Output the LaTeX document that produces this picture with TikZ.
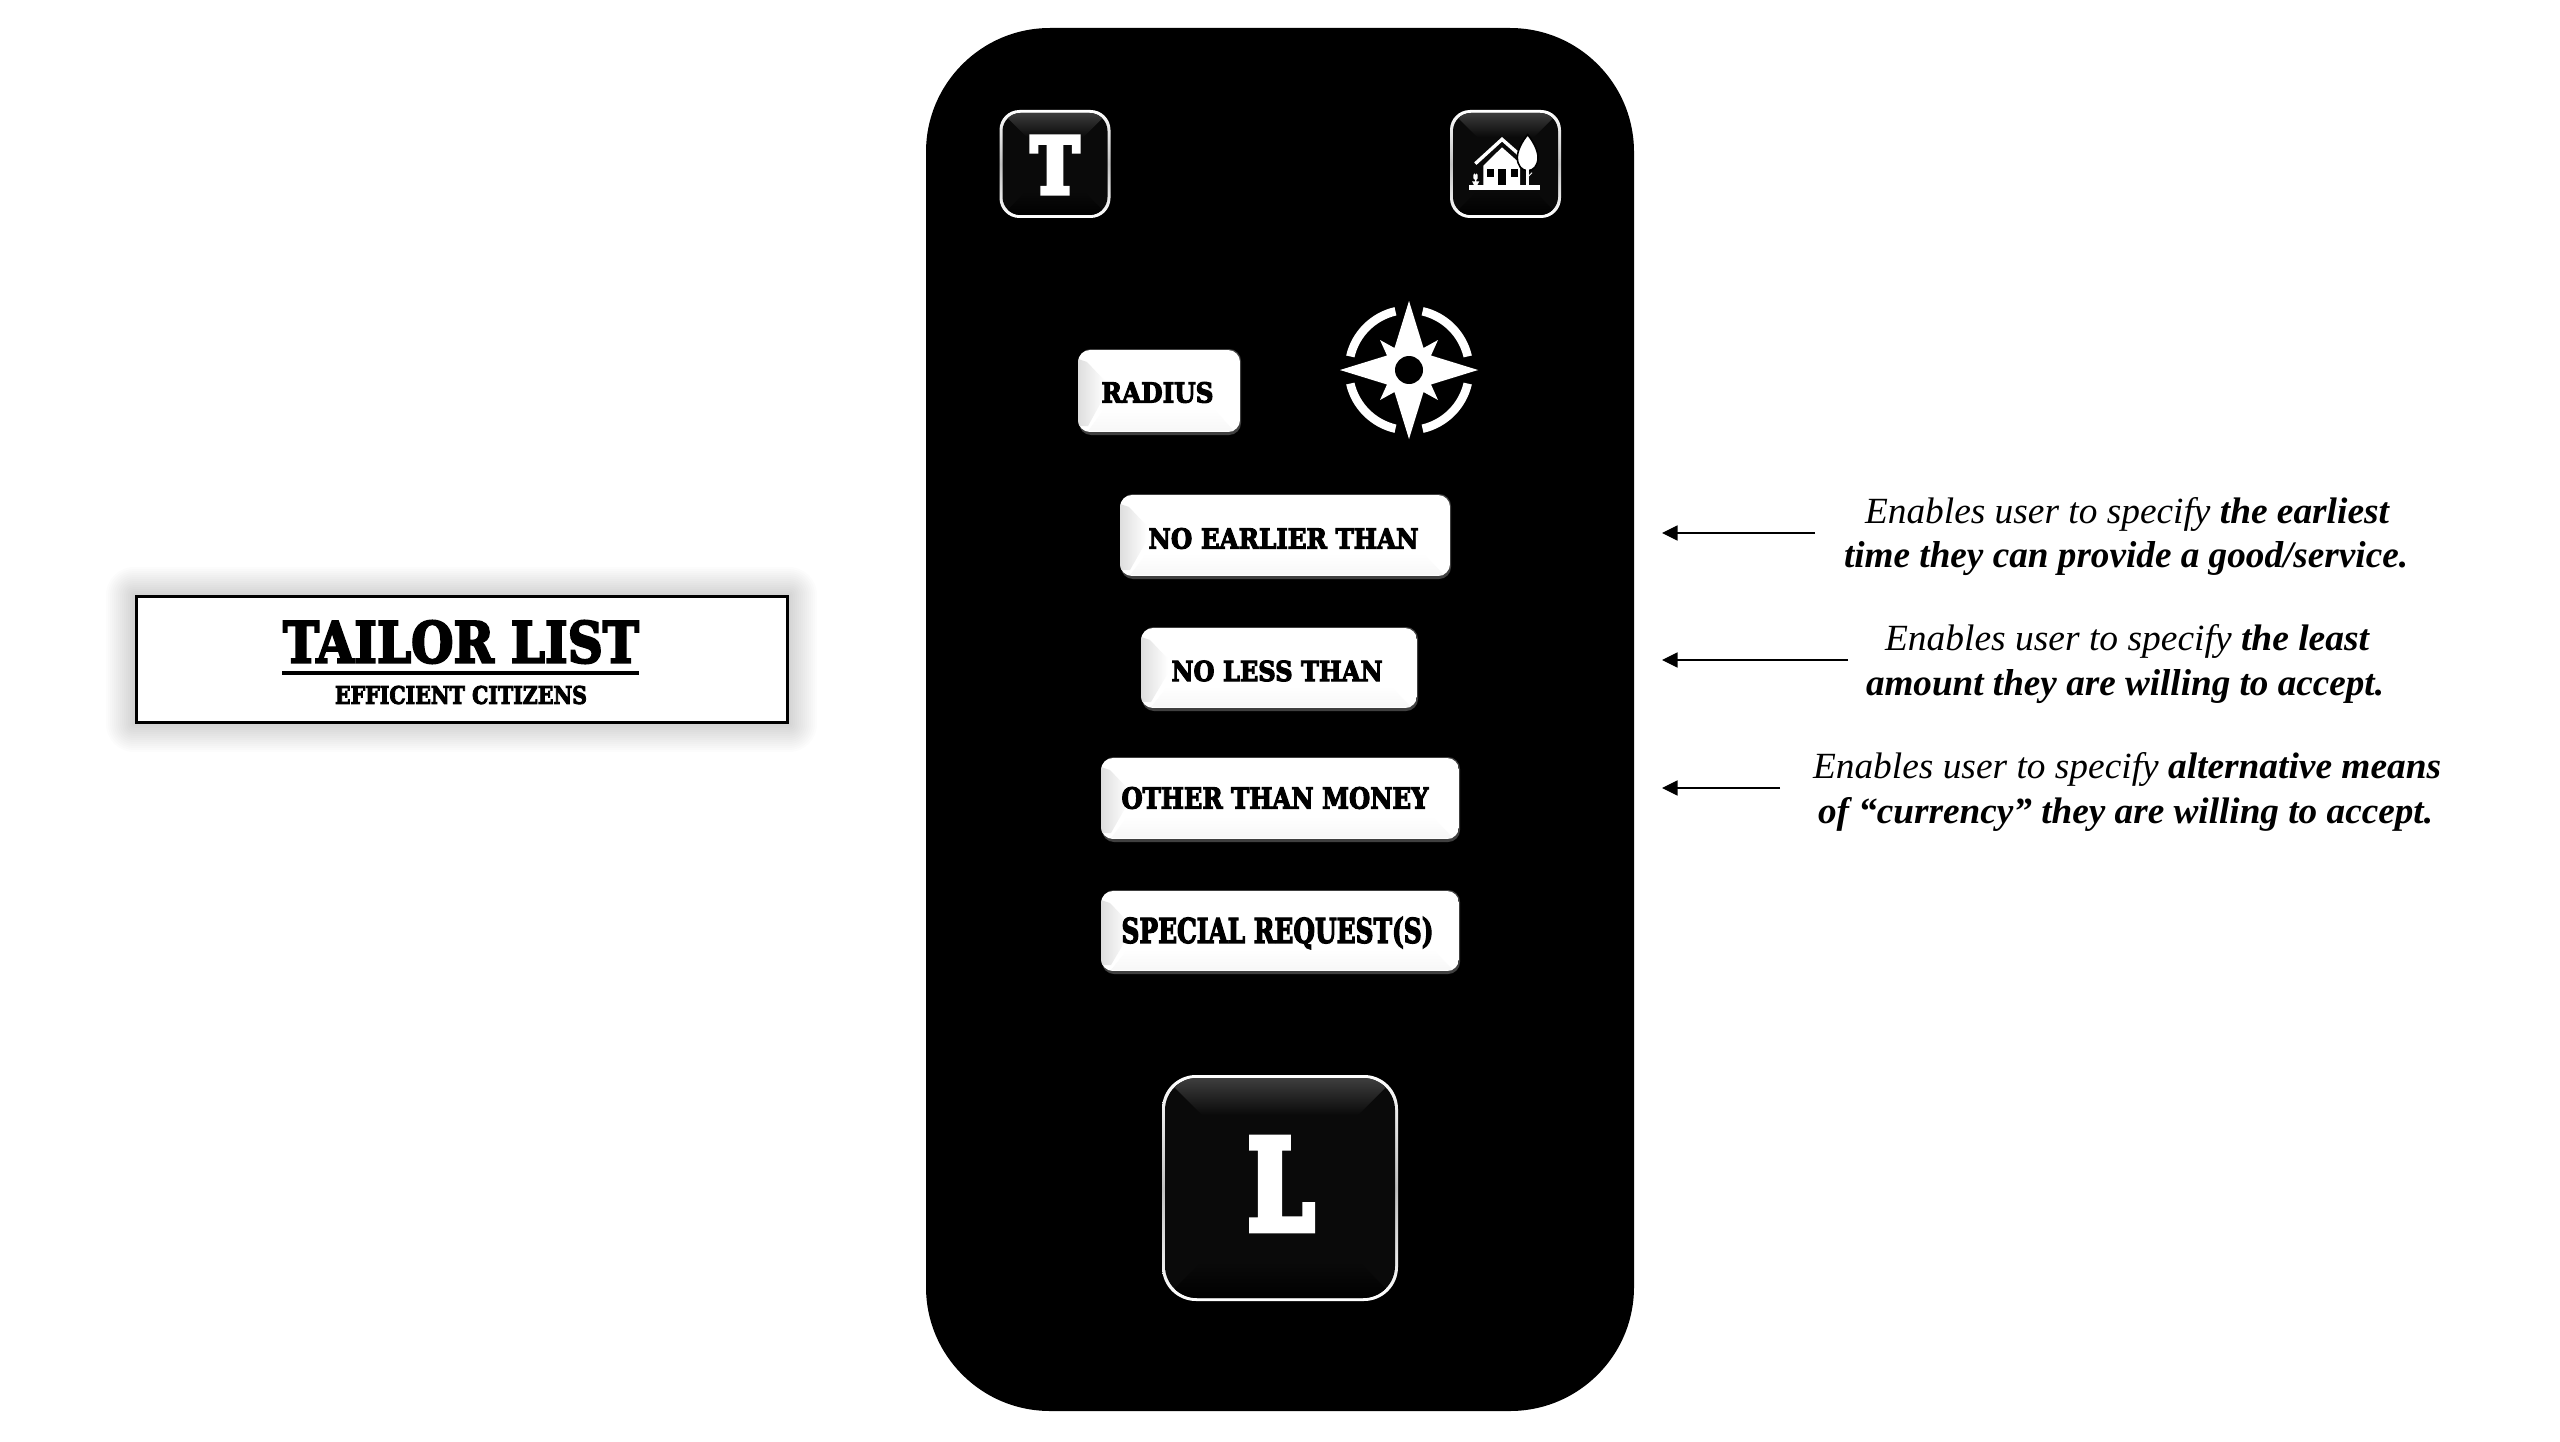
\documentclass[tikz,border=0pt]{standalone}
\usepackage{fontspec}
\usepackage{graphicx}
\setmainfont{Liberation Serif}
\newfontfamily\stencilfont{DejaVu Serif}[BoldFeatures={FakeBold=4}]
\newfontfamily\iconfont{DejaVu Serif}[BoldFeatures={FakeBold=7}]
\usetikzlibrary{arrows.meta}
\definecolor{btnbody}{HTML}{0A0A0A}
\definecolor{btnglow}{HTML}{424242}
\tikzset{
  stencilnode/.style={inner sep=0pt,outer sep=0pt,anchor=center,font=\stencilfont\bfseries},
  iconletter/.style={inner sep=0pt,outer sep=0pt,anchor=center,font=\iconfont\bfseries,text=white},
  annotnode/.style={inner sep=0pt,outer sep=0pt,anchor=base west,text=black},
  pointer/.style={line width=1.1pt,-{Triangle[length=15.5pt,width=15pt]}},
}
% stencil text: name, centre x, centre y, width, cap height, colour, text
\newcommand{\stxt}[7]{\node[stencilnode,text=#6] (#1) at (#2,#3) {\resizebox{#4pt}{#5pt}{#7}};}
% annotation line: name, x, baseline, width, text
\newcommand{\annot}[5]{\node[annotnode] (#1) at (#2,#3) {\resizebox{#4pt}{26pt}{\itshape #5}};}
% light button
\newcommand{\lightbtn}[4]{%
  \fill[black!75,rounded corners=12pt] (#1+1,#2-1) rectangle (#3+1,#4+3);
  \begin{scope}
    \path[clip,rounded corners=12pt] (#1,#2) rectangle (#3,#4);
    \fill[white] (#1,#2) rectangle (#3,#4);
    \shade[top color=white,bottom color=black!3] (#1+10,#4-1) -- (#1+27,#2+58) -- (#3-27,#2+58) -- (#3-6,#4-1) -- cycle;
    \shade[left color=black!13,right color=white] (#1,#2+9) -- (#1+9,#2+12) -- (#1+27,#2+31) -- (#1+27,#2+45) -- (#1+10,#4-6) -- (#1,#4-6) -- cycle;
  \end{scope}
}
% dark button: x0,y0,x1,y1,radius,bevel depth
\newcommand{\darkbtn}[6]{%
  \shade[top color=white,bottom color=white,middle color=black!24,rounded corners=#5pt] (#1,#2) rectangle (#3,#4);
  \begin{scope}
    \path[clip,rounded corners=#5pt-2pt] (#1+3,#2+3) rectangle (#3-3,#4-3);
    \fill[btnbody] (#1,#2) rectangle (#3,#4);
    \shade[top color=btnbody,bottom color=black] (#1,#4) -- (#1+#6,#4-#6) -- (#3-#6,#4-#6) -- (#3,#4) -- cycle;
    \shade[top color=btnglow,bottom color=btnbody] (#1,#2) -- (#3,#2) -- (#3-#6,#2+#6) -- (#1+#6,#2+#6) -- cycle;
  \end{scope}
}
\begin{document}
\begin{tikzpicture}[x=1pt,y=-1pt]
\path[use as bounding box,fill=white] (0,0) rectangle (2560,1442);

% title card
\foreach \d in {2,4,...,28}{
  \fill[black,opacity=0.012,rounded corners=\d pt] (134-\d,595-\d) rectangle (789+\d,724+\d);
}
\draw[fill=white,draw=black,line width=3pt] (136,596.5) rectangle (787.5,722.5);
\stxt{title}{461}{642}{356}{42}{black}{TAILOR LIST}
\fill[black] (282,671) rectangle (639,675);
\stxt{subtitle}{461}{695}{252}{18}{black}{EFFICIENT CITIZENS}

% phone
\fill[black,rounded corners=124pt] (926,28) rectangle (1634,1411);

% top buttons
\darkbtn{999.5}{110}{1110.5}{218}{20}{27}
\node[iconletter] (tletter) at (1055,165) {\resizebox{48pt}{56pt}{T}};
\darkbtn{1450}{110}{1561}{218}{20}{27}

% house icon
\begin{scope}[shift={(1440,120)},scale=0.3333]
  \fill[white] (88,195) rectangle (300,210);
  \draw[white,line width=3.4pt] (106,131) -- (186,58) -- (236,102);
  \fill[white] (130,137) -- (186,82) -- (240,130) -- (240,196) -- (130,196) -- cycle;
  \fill[black] (140,147) rectangle (163,170);
  \fill[black] (212,147) rectangle (235,170);
  \fill[black] (175,147) rectangle (198,195);
  \draw[black,line width=1.6pt,fill=white] (263,44) .. controls (278,62) and (294,90) .. (294,112) .. controls (294,138) and (280,152) .. (263,152) .. controls (246,152) and (232,138) .. (232,112) .. controls (232,90) and (248,62) .. (263,44) -- cycle;
  \fill[white] (258,145) rectangle (267,197);
  \draw[white,line width=0.9pt] (262,172) -- (276,158);
  \fill[white] (104,160) -- (107,165) -- (110,160) -- (113,165) -- (113,175) -- (109,180) -- (109,195) -- (105,195) -- (105,180) -- (100,175) -- (100,165) -- cycle;
  \fill[white] (96,184) -- (118,184) -- (112,195) -- (102,195) -- cycle;
\end{scope}

% radius row
\lightbtn{1078}{350}{1240}{432}
\stxt{radius}{1157.5}{392.5}{112}{20.5}{black}{RADIUS}

% compass
\begin{scope}[shift={(1409,370)}]
  \foreach \sx/\sy in {1/1,-1/1,1/-1,-1/-1}{
    \begin{scope}[xscale=\sx,yscale=\sy]
      \fill[white] (13:64.5) arc[start angle=13,end angle=77,radius=64.5] -- (77:56) arc[start angle=77,end angle=13,radius=56] -- cycle;
      \fill[white] (0,-69) -- (14.5,-22) -- (29,-30) -- (22,-14.5) -- (69,0) -- (0,0) -- cycle;
    \end{scope}
  }
  \fill[black] (0,0) circle[radius=14];
\end{scope}

% option buttons
\lightbtn{1120}{495}{1450}{576}
\stxt{earlier}{1283.5}{538.5}{270}{20.5}{black}{NO EARLIER THAN}
\lightbtn{1141}{628}{1417}{708}
\stxt{less}{1277}{671}{211}{20.5}{black}{NO LESS THAN}
\lightbtn{1101}{758}{1459}{839}
\stxt{money}{1275}{798}{307}{21.5}{black}{OTHER THAN MONEY}
\lightbtn{1101}{891}{1459}{971}
\stxt{special}{1277.5}{933}{312}{26}{black}{SPECIAL REQUEST(S)}

% bottom button
\darkbtn{1162}{1075}{1398}{1301}{34}{40}
\node[iconletter] (lletter) at (1281,1184) {\resizebox{66pt}{90pt}{L}};

% annotations
\annot{a1}{1865}{523}{524}{Enables user to specify \textbf{the earliest}}
\annot{a2}{1844}{567}{564}{\textbf{time they can provide a good/service.}}
\annot{b1}{1885}{650}{484}{Enables user to specify \textbf{the least}}
\annot{b2}{1866}{695}{518}{\textbf{amount they are willing to accept.}}
\annot{c1}{1813}{778}{628}{Enables user to specify \textbf{alternative means}}
\annot{c2}{1818}{823}{615}{\textbf{of “currency” they are willing to accept.}}

\coordinate (p1s) at (1815,533);
\coordinate (p1e) at (1662,533);
\coordinate (p2s) at (1848,660);
\coordinate (p2e) at (1662,660);
\coordinate (p3s) at (1780,788);
\coordinate (p3e) at (1662,788);
\draw[pointer] (p1s) -- (p1e);
\draw[pointer] (p2s) -- (p2e);
\draw[pointer] (p3s) -- (p3e);
\end{tikzpicture}
\end{document}
